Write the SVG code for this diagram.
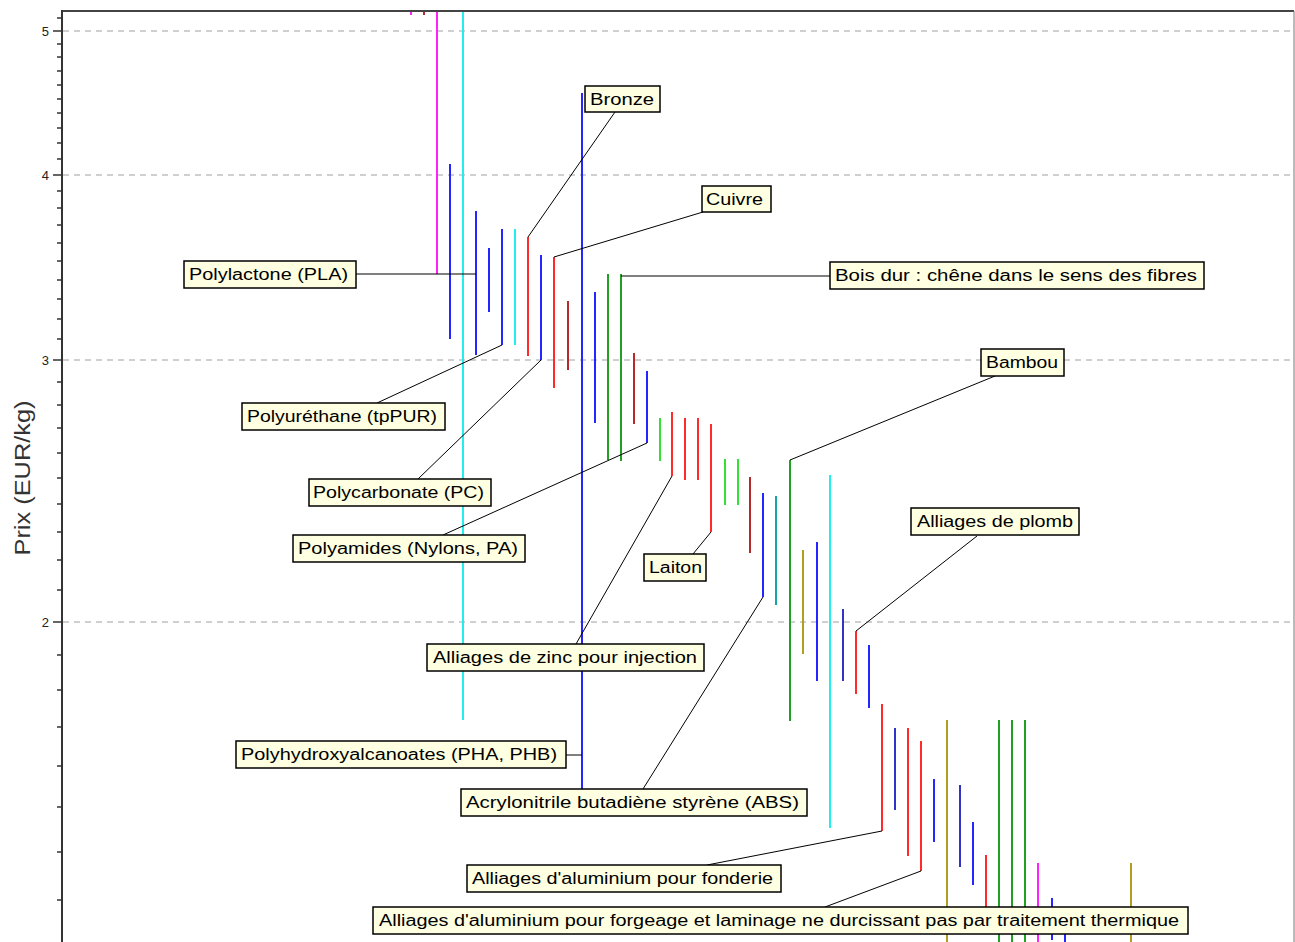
<svg xmlns="http://www.w3.org/2000/svg" width="1295" height="942" viewBox="0 0 1295 942">
<style>
.grid{stroke:#a0a0a0;stroke-width:1;stroke-dasharray:6 5;fill:none}
.tick{stroke:#333;stroke-width:1.5}
.ax{fill:#222;font-family:"Liberation Sans",Arial,sans-serif;font-size:13px;text-anchor:end}
.bar{stroke-width:2;fill:none}
.b{stroke:#2525ff}.r{stroke:#ff2b2b}.g{stroke:#22a022}.lg{stroke:#33e033}.c{stroke:#22eeee}
.m{stroke:#ff22ff}.dr{stroke:#b52a2a}.t{stroke:#12a6a6}.o{stroke:#b0a022}.db{stroke:#3333c8}
.ld{stroke:#000;stroke-width:1;fill:none}
.box{fill:#ffffe1;stroke:#000;stroke-width:1.5}
.lt{fill:#000;font-family:"Liberation Sans",Arial,sans-serif;font-size:16px}
</style>
<rect width="1295" height="942" fill="#fff"/>
<g id="grid">
<line class="grid" x1="63" y1="31" x2="1293" y2="31"/>
<line class="grid" x1="63" y1="175" x2="1293" y2="175"/>
<line class="grid" x1="63" y1="360" x2="1293" y2="360"/>
<line class="grid" x1="63" y1="622" x2="1293" y2="622"/>
</g>
<g id="bars">
<line class="bar m" x1="411" y1="12" x2="411" y2="15"/>
<line class="bar dr" x1="424" y1="12" x2="424" y2="15"/>
<line class="bar m" x1="437" y1="12" x2="437" y2="274"/>
<line class="bar c" x1="463" y1="12" x2="463" y2="720"/>
<line class="bar b" x1="450" y1="164" x2="450" y2="339"/>
<line class="bar b" x1="476" y1="211" x2="476" y2="355"/>
<line class="bar b" x1="489" y1="248" x2="489" y2="312"/>
<line class="bar b" x1="502" y1="229" x2="502" y2="345"/>
<line class="bar c" x1="515" y1="229" x2="515" y2="345"/>
<line class="bar r" x1="528" y1="237" x2="528" y2="356"/>
<line class="bar b" x1="541" y1="255" x2="541" y2="360"/>
<line class="bar r" x1="554" y1="257" x2="554" y2="388"/>
<line class="bar dr" x1="568" y1="301" x2="568" y2="370"/>
<line class="bar b" x1="582" y1="93" x2="582" y2="790"/>
<line class="bar b" x1="595" y1="292" x2="595" y2="423"/>
<line class="bar g" x1="608" y1="274" x2="608" y2="460"/>
<line class="bar g" x1="621" y1="274" x2="621" y2="461"/>
<line class="bar dr" x1="634" y1="353" x2="634" y2="424"/>
<line class="bar b" x1="647" y1="371" x2="647" y2="443"/>
<line class="bar lg" x1="660" y1="418" x2="660" y2="461"/>
<line class="bar r" x1="672" y1="412" x2="672" y2="476"/>
<line class="bar r" x1="685" y1="418" x2="685" y2="480"/>
<line class="bar r" x1="698" y1="418" x2="698" y2="480"/>
<line class="bar r" x1="711" y1="424" x2="711" y2="532"/>
<line class="bar lg" x1="725" y1="459" x2="725" y2="505"/>
<line class="bar lg" x1="738" y1="459" x2="738" y2="505"/>
<line class="bar dr" x1="750" y1="477" x2="750" y2="553"/>
<line class="bar b" x1="763" y1="493" x2="763" y2="597"/>
<line class="bar t" x1="776" y1="496" x2="776" y2="605"/>
<line class="bar g" x1="790" y1="460" x2="790" y2="721"/>
<line class="bar o" x1="803" y1="550" x2="803" y2="654"/>
<line class="bar b" x1="817" y1="542" x2="817" y2="681"/>
<line class="bar c" x1="830" y1="475" x2="830" y2="828"/>
<line class="bar db" x1="843" y1="609" x2="843" y2="681"/>
<line class="bar r" x1="856" y1="631" x2="856" y2="694"/>
<line class="bar b" x1="869" y1="645" x2="869" y2="708"/>
<line class="bar r" x1="882" y1="704" x2="882" y2="831"/>
<line class="bar db" x1="895" y1="728" x2="895" y2="810"/>
<line class="bar r" x1="908" y1="728" x2="908" y2="856"/>
<line class="bar r" x1="921" y1="741" x2="921" y2="871"/>
<line class="bar b" x1="934" y1="779" x2="934" y2="842"/>
<line class="bar o" x1="947" y1="720" x2="947" y2="942"/>
<line class="bar db" x1="960" y1="785" x2="960" y2="867"/>
<line class="bar b" x1="973" y1="822" x2="973" y2="885"/>
<line class="bar r" x1="986" y1="855" x2="986" y2="915"/>
<line class="bar g" x1="999" y1="720" x2="999" y2="942"/>
<line class="bar g" x1="1012" y1="720" x2="1012" y2="942"/>
<line class="bar g" x1="1025" y1="720" x2="1025" y2="942"/>
<line class="bar m" x1="1038" y1="863" x2="1038" y2="942"/>
<line class="bar b" x1="1052" y1="898" x2="1052" y2="940"/>
<line class="bar b" x1="1065" y1="915" x2="1065" y2="942"/>
<line class="bar o" x1="1131" y1="863" x2="1131" y2="942"/>
</g>
<g id="connectors">
<line class="ld" x1="615" y1="112" x2="528" y2="237"/>
<line class="ld" x1="703" y1="212" x2="554" y2="257"/>
<line class="ld" x1="356" y1="274" x2="476" y2="274"/>
<line class="ld" x1="621" y1="276" x2="830" y2="276"/>
<line class="ld" x1="995" y1="376" x2="790" y2="460"/>
<line class="ld" x1="377" y1="403" x2="502" y2="345"/>
<line class="ld" x1="418" y1="479" x2="541" y2="360"/>
<line class="ld" x1="443" y1="535" x2="647" y2="443"/>
<line class="ld" x1="977" y1="536" x2="856" y2="631"/>
<line class="ld" x1="693" y1="554" x2="711" y2="532"/>
<line class="ld" x1="576" y1="644" x2="672" y2="476"/>
<line class="ld" x1="566" y1="755" x2="582" y2="755"/>
<line class="ld" x1="643" y1="789" x2="763" y2="597"/>
<line class="ld" x1="707" y1="865" x2="882" y2="831"/>
<line class="ld" x1="825" y1="907" x2="921" y2="871"/>
</g>
<g id="axis">
<line x1="62" y1="11" x2="1294" y2="11" stroke="#444" stroke-width="2"/>
<line x1="62" y1="10" x2="62" y2="942" stroke="#333" stroke-width="2"/>
<line x1="1294" y1="11" x2="1294" y2="942" stroke="#777" stroke-width="1"/>
<g class="tick">
<line x1="53" y1="31" x2="62" y2="31"/><line x1="53" y1="175" x2="62" y2="175"/><line x1="53" y1="360" x2="62" y2="360"/><line x1="53" y1="622" x2="62" y2="622"/>
<line x1="57" y1="18" x2="62" y2="18"/><line x1="57" y1="44" x2="62" y2="44"/><line x1="57" y1="57" x2="62" y2="57"/><line x1="57" y1="71" x2="62" y2="71"/><line x1="57" y1="85" x2="62" y2="85"/><line x1="57" y1="99" x2="62" y2="99"/><line x1="57" y1="113" x2="62" y2="113"/><line x1="57" y1="128" x2="62" y2="128"/><line x1="57" y1="143" x2="62" y2="143"/><line x1="57" y1="159" x2="62" y2="159"/>
<line x1="57" y1="191" x2="62" y2="191"/><line x1="57" y1="208" x2="62" y2="208"/><line x1="57" y1="225" x2="62" y2="225"/><line x1="57" y1="243" x2="62" y2="243"/><line x1="57" y1="261" x2="62" y2="261"/><line x1="57" y1="280" x2="62" y2="280"/><line x1="57" y1="299" x2="62" y2="299"/><line x1="57" y1="319" x2="62" y2="319"/><line x1="57" y1="339" x2="62" y2="339"/>
<line x1="57" y1="382" x2="62" y2="382"/><line x1="57" y1="405" x2="62" y2="405"/><line x1="57" y1="428" x2="62" y2="428"/><line x1="57" y1="453" x2="62" y2="453"/><line x1="57" y1="478" x2="62" y2="478"/><line x1="57" y1="504" x2="62" y2="504"/><line x1="57" y1="532" x2="62" y2="532"/><line x1="57" y1="560" x2="62" y2="560"/><line x1="57" y1="590" x2="62" y2="590"/>
<line x1="57" y1="655" x2="62" y2="655"/><line x1="57" y1="690" x2="62" y2="690"/><line x1="57" y1="727" x2="62" y2="727"/><line x1="57" y1="766" x2="62" y2="766"/><line x1="57" y1="807" x2="62" y2="807"/><line x1="57" y1="852" x2="62" y2="852"/><line x1="57" y1="900" x2="62" y2="900"/>
</g>
<text class="ax" x="49" y="36">5</text>
<text class="ax" x="49" y="180">4</text>
<text class="ax" x="49" y="365">3</text>
<text class="ax" x="49" y="627">2</text>
<text transform="translate(30,478) rotate(-90)" text-anchor="middle" font-family="'Liberation Sans Narrow','Liberation Sans',Arial,sans-serif" font-size="22" fill="#333" textLength="155" lengthAdjust="spacingAndGlyphs">Prix (EUR/kg)</text>
</g>
<g id="n-bronze"><rect class="box" x="585" y="86" width="75" height="26"/><text class="lt" x="590" y="105" textLength="64" lengthAdjust="spacingAndGlyphs">Bronze</text></g>
<g id="n-cuivre"><rect class="box" x="702" y="186" width="69" height="26"/><text class="lt" x="706" y="205" textLength="57" lengthAdjust="spacingAndGlyphs">Cuivre</text></g>
<g id="n-pla"><rect class="box" x="184" y="261" width="172" height="27"/><text class="lt" x="189" y="280" textLength="159" lengthAdjust="spacingAndGlyphs">Polylactone (PLA)</text></g>
<g id="n-bois"><rect class="box" x="830" y="262" width="374" height="27"/><text class="lt" x="835" y="281" textLength="362" lengthAdjust="spacingAndGlyphs">Bois dur : chêne dans le sens des fibres</text></g>
<g id="n-bambou"><rect class="box" x="981" y="349" width="83" height="27"/><text class="lt" x="986" y="368" textLength="72" lengthAdjust="spacingAndGlyphs">Bambou</text></g>
<g id="n-pur"><rect class="box" x="242" y="403" width="203" height="27"/><text class="lt" x="247" y="422" textLength="190" lengthAdjust="spacingAndGlyphs">Polyuréthane (tpPUR)</text></g>
<g id="n-pc"><rect class="box" x="309" y="479" width="182" height="27"/><text class="lt" x="313" y="498" textLength="171" lengthAdjust="spacingAndGlyphs">Polycarbonate (PC)</text></g>
<g id="n-pa"><rect class="box" x="293" y="535" width="232" height="27"/><text class="lt" x="298" y="554" textLength="220" lengthAdjust="spacingAndGlyphs">Polyamides (Nylons, PA)</text></g>
<g id="n-plomb"><rect class="box" x="911" y="508" width="168" height="27"/><text class="lt" x="917" y="527" textLength="156" lengthAdjust="spacingAndGlyphs">Alliages de plomb</text></g>
<g id="n-laiton"><rect class="box" x="644" y="554" width="62" height="27"/><text class="lt" x="649" y="573" textLength="53" lengthAdjust="spacingAndGlyphs">Laiton</text></g>
<g id="n-zinc"><rect class="box" x="427" y="644" width="277" height="27"/><text class="lt" x="433" y="663" textLength="264" lengthAdjust="spacingAndGlyphs">Alliages de zinc pour injection</text></g>
<g id="n-pha"><rect class="box" x="236" y="741" width="330" height="27"/><text class="lt" x="241" y="760" textLength="316" lengthAdjust="spacingAndGlyphs">Polyhydroxyalcanoates (PHA, PHB)</text></g>
<g id="n-abs"><rect class="box" x="461" y="789" width="346" height="27"/><text class="lt" x="466" y="808" textLength="333" lengthAdjust="spacingAndGlyphs">Acrylonitrile butadiène styrène (ABS)</text></g>
<g id="n-fonderie"><rect class="box" x="467" y="865" width="314" height="27"/><text class="lt" x="472" y="884" textLength="301" lengthAdjust="spacingAndGlyphs">Alliages d'aluminium pour fonderie</text></g>
<g id="n-forgeage"><rect class="box" x="373" y="907" width="815" height="27"/><text class="lt" x="379" y="926" textLength="800" lengthAdjust="spacingAndGlyphs">Alliages d'aluminium pour forgeage et laminage ne durcissant pas par traitement thermique</text></g>
</svg>
